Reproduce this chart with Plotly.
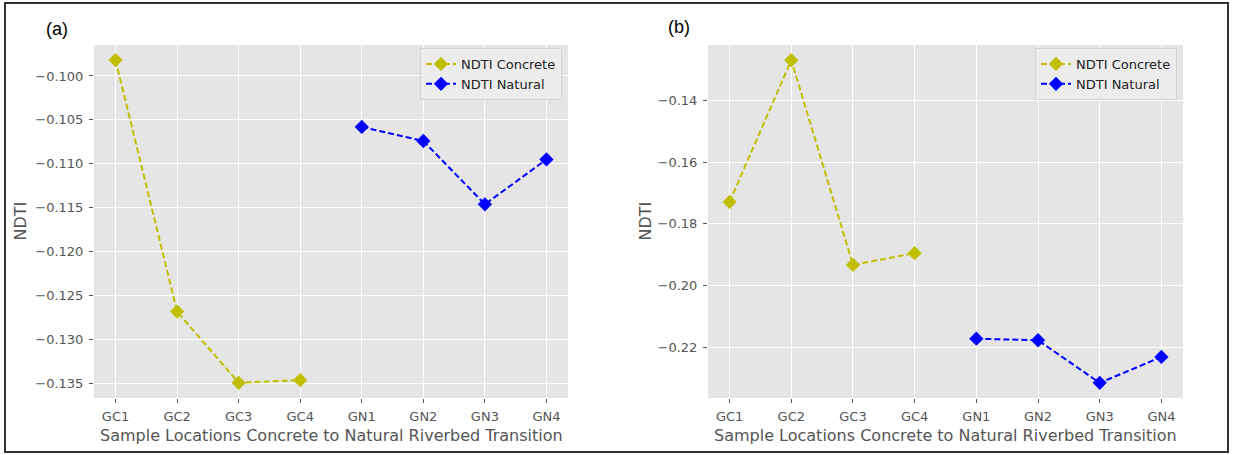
import plotly.graph_objects as go

categories = ["GC1", "GC2", "GC3", "GC4", "GN1", "GN2", "GN3", "GN4"]
concrete_cats = ["GC1", "GC2", "GC3", "GC4"]
natural_cats = ["GN1", "GN2", "GN3", "GN4"]

# Panel (a)
a_concrete = [-0.0982, -0.1268, -0.1349, -0.1346]
a_natural = [-0.1058, -0.1074, -0.1146, -0.1095]
# Panel (b)
b_concrete = [-0.1729, -0.1270, -0.1933, -0.1895]
b_natural = [-0.2172, -0.2177, -0.2315, -0.2231]

a_ticks = [-0.100, -0.105, -0.110, -0.115, -0.120, -0.125, -0.130, -0.135]
b_ticks = [-0.14, -0.16, -0.18, -0.20, -0.22]

W, H = 1233, 455
def px(x):
    return x / W
def py(y):
    return 1 - y / H

YEL = "#BFBF00"
BLU = "#0000FF"
GRAY = "#555555"
FONT = "DejaVu Sans"

fig = go.Figure()

def add_pair(conc, nat, xa, ya, legend):
    fig.add_trace(go.Scatter(x=concrete_cats, y=conc, mode="lines+markers", name="NDTI Concrete",
                             line=dict(color=YEL, width=2, dash="6px,3px"),
                             marker=dict(symbol="diamond", size=11, color=YEL),
                             xaxis=xa, yaxis=ya, legend=legend))
    fig.add_trace(go.Scatter(x=natural_cats, y=nat, mode="lines+markers", name="NDTI Natural",
                             line=dict(color=BLU, width=2, dash="6px,3px"),
                             marker=dict(symbol="diamond", size=11, color=BLU),
                             xaxis=xa, yaxis=ya, legend=legend))

add_pair(a_concrete, a_natural, "x", "y", "legend")
add_pair(b_concrete, b_natural, "x2", "y2", "legend2")

PTOP, PBOT = 45, 398

common_x = dict(type="category", categoryorder="array", categoryarray=categories,
                range=[-0.35, 7.35], showgrid=True, gridcolor="white", gridwidth=1,
                ticks="outside", ticklen=4, tickcolor=GRAY, zeroline=False,
                ticklabelstandoff=2,
                tickfont=dict(family=FONT, size=13, color=GRAY), showline=False)
common_y = dict(showgrid=True, gridcolor="white", gridwidth=1, ticks="outside", ticklen=4,
                tickcolor=GRAY, zeroline=False, ticklabelstandoff=3,
                tickfont=dict(family=FONT, size=13, color=GRAY), showline=False)

legend_common = dict(xanchor="right", yanchor="top",
                     bgcolor="rgba(236,236,236,0.9)", bordercolor="#D4D4D4", borderwidth=1,
                     font=dict(family=FONT, size=13, color="#222222"), tracegroupgap=2,
                     itemwidth=30)

fig.update_layout(
    width=W, height=H,
    margin=dict(l=0, r=0, t=0, b=0),
    paper_bgcolor="white",
    plot_bgcolor="#E5E5E5",
    xaxis=dict(domain=[px(94), px(568)], anchor="y", **common_x),
    yaxis=dict(domain=[py(PBOT), py(PTOP)], anchor="x", range=[-0.13663, -0.09648],
               tickvals=a_ticks, tickformat=".3f", **common_y),
    xaxis2=dict(domain=[px(708), px(1183)], anchor="y2", **common_x),
    yaxis2=dict(domain=[py(PBOT), py(PTOP)], anchor="x2", range=[-0.2364, -0.1221],
                tickvals=b_ticks, tickformat=".2f", **common_y),
    legend=dict(x=px(562), y=py(48), **legend_common),
    legend2=dict(x=px(1177), y=py(48), **legend_common),
    showlegend=True,
)

XT = "Sample Locations Concrete to Natural Riverbed Transition"
for cx in [(94 + 568) / 2, (708 + 1183) / 2]:
    fig.add_annotation(text=XT, x=px(cx), y=py(435), xref="paper", yref="paper",
                       showarrow=False, xanchor="center", yanchor="middle",
                       font=dict(family=FONT, size=16, color=GRAY))
for cx in [20, 645]:
    fig.add_annotation(text="NDTI", x=px(cx), y=py((PTOP + PBOT) / 2), xref="paper", yref="paper",
                       showarrow=False, xanchor="center", yanchor="middle", textangle=-90,
                       font=dict(family=FONT, size=16, color=GRAY))

fig.add_annotation(text="(a)", x=px(57), y=py(29), xref="paper", yref="paper",
                   showarrow=False, xanchor="center", yanchor="middle",
                   font=dict(family="Liberation Sans", size=18, color="black"))
fig.add_annotation(text="(b)", x=px(679), y=py(27), xref="paper", yref="paper",
                   showarrow=False, xanchor="center", yanchor="middle",
                   font=dict(family="Liberation Sans", size=18, color="black"))

fig.add_shape(type="rect", xref="paper", yref="paper", x0=px(5), x1=px(1228),
              y0=py(452), y1=py(3), line=dict(color="#333333", width=2),
              fillcolor="rgba(0,0,0,0)", layer="above")

fig.write_html("out.html", config={"displayModeBar": False},
               post_script="document.body.style.margin='0';document.body.style.overflow='hidden';")
